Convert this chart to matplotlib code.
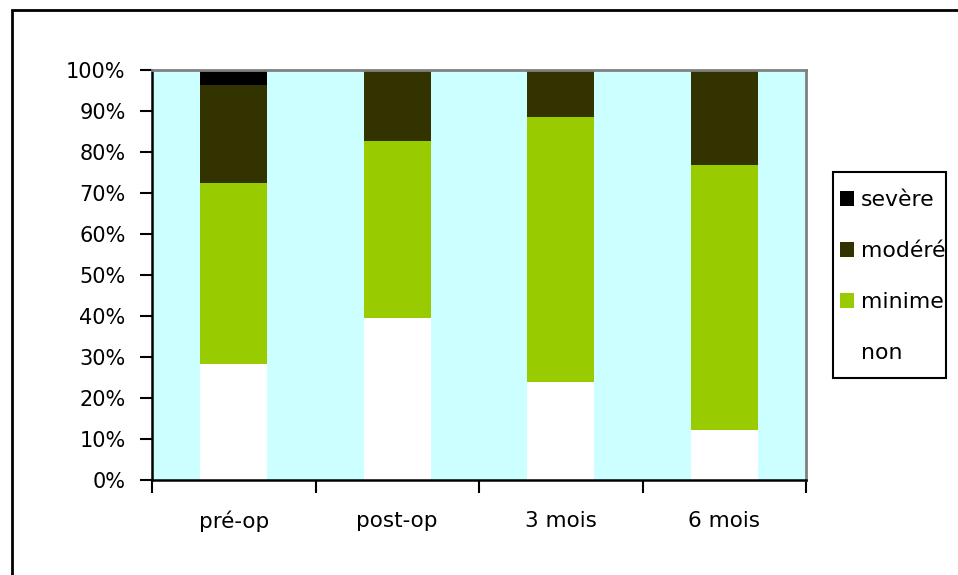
import matplotlib
matplotlib.use("Agg")
import matplotlib.pyplot as plt
from matplotlib.patches import Rectangle, Patch
import numpy as np

plt.rcParams['font.family'] = ['DejaVu Sans']

categories = ["pré-op", "post-op", "3 mois", "6 mois"]
non = [28.3, 39.5, 24.0, 12.2]
minime = [44.1, 43.2, 64.5, 64.6]
modere = [23.9, 17.3, 11.5, 23.2]
severe = [3.7, 0.0, 0.0, 0.0]
series_names = ["non", "minime", "modéré", "sevère"]
series_colors = ["#FFFFFF", "#99CC00", "#333300", "#000000"]

W, H = 958, 575
fig = plt.figure(figsize=(W / 100, H / 100), dpi=100)
ax = fig.add_axes([152 / W, 1 - 480 / H, (806 - 152) / W, (480 - 70) / H])
ax.set_facecolor("#CCFFFF")

x = np.arange(len(categories))
bottom = np.zeros(len(categories))
handles = []
for vals, name, col in zip([non, minime, modere, severe], series_names, series_colors):
    v = np.array(vals)
    ax.bar(x, v, width=0.41, bottom=bottom, color=col, edgecolor="none", zorder=2)
    bottom += v
    handles.append(Patch(facecolor=col, edgecolor="none", label=name))

ax.set_xlim(-0.5, len(categories) - 0.5)
ax.set_ylim(0, 100)
ax.set_yticks(np.arange(0, 101, 10))
ax.set_yticklabels([f"{t}%" for t in range(0, 101, 10)], fontsize=15)
ax.tick_params(axis="y", direction="out", length=9, width=1.5, pad=10)

ax.set_xticks(x)
ax.set_xticklabels(categories, fontsize=15.5)
ax.tick_params(axis="x", which="major", length=0, pad=22)
ax.set_xticks(np.arange(-0.5, len(categories), 1), minor=True)
ax.tick_params(axis="x", which="minor", direction="out", length=9, width=1.5)

for s in ["left", "bottom"]:
    ax.spines[s].set_color("black")
    ax.spines[s].set_linewidth(1.8)
for s in ["top", "right"]:
    ax.spines[s].set_color("#808080")
    ax.spines[s].set_linewidth(2)

leg = fig.legend(handles=handles[::-1], loc="upper left",
                 bbox_to_anchor=(840 / W, 1 - 190 / H), fontsize=15.8,
                 frameon=False,
                 handlelength=0.66, handleheight=0.66, handletextpad=0.3,
                 labelspacing=1.42, borderpad=0, borderaxespad=0)

legframe = Rectangle((833 / W, 1 - 378 / H), (946 - 833) / W, (378 - 172) / H,
                     transform=fig.transFigure, fill=False, edgecolor="black",
                     linewidth=1.5)
fig.patches.append(legframe)

frame = Rectangle((12 / W, -0.1), 1.2, 1 - 10 / H + 0.1, transform=fig.transFigure,
                  fill=False, edgecolor="black", linewidth=2, clip_on=False)
fig.patches.append(frame)

fig.savefig("out.png", dpi=100)
